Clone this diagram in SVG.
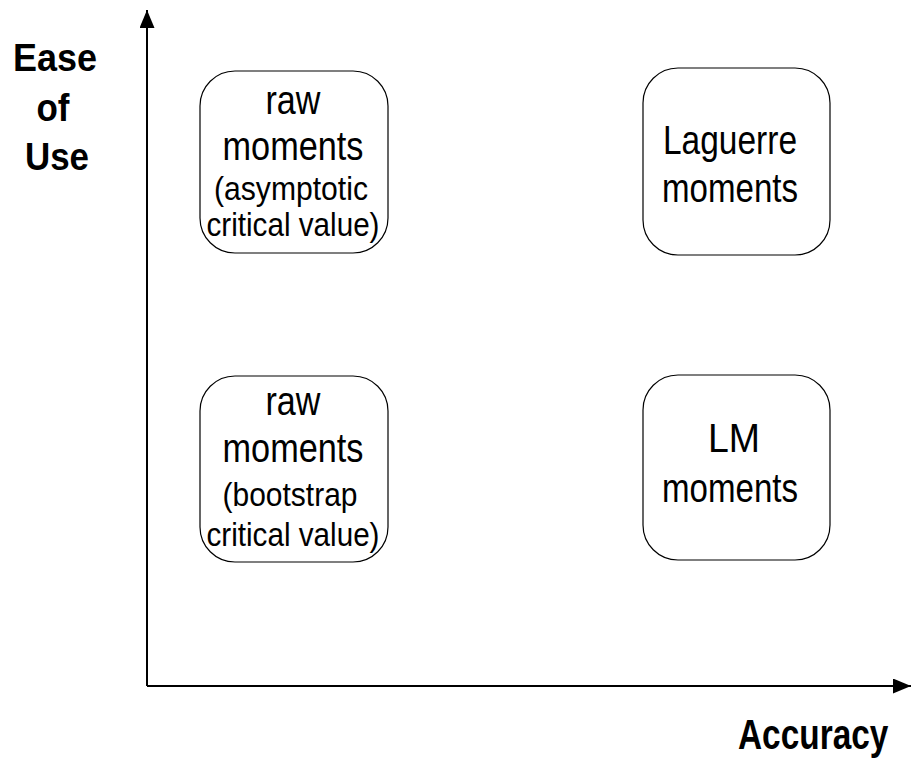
<svg xmlns="http://www.w3.org/2000/svg" width="912" height="761" viewBox="0 0 912 761">
<style>
.box{fill:#fff;stroke:#000;stroke-width:1.2}
.t{font-family:"Liberation Sans",Arial,sans-serif;fill:#000;text-anchor:middle}
.big{font-size:41px}
.small{font-size:33px}
.lab{font-family:"Liberation Sans",Arial,sans-serif;font-weight:bold;fill:#000}
.axis{stroke:#000;stroke-width:2;fill:none}
</style>
<defs>
<marker id="ah" viewBox="0 0 18 15" refX="18" refY="7.5" markerWidth="18" markerHeight="15" markerUnits="userSpaceOnUse" orient="auto">
<path d="M0,0 L18,7.5 L0,15 Z" fill="#000"/>
</marker>
</defs>
<rect width="912" height="761" fill="#fff"/>
<g id="connectors">
<path class="axis" d="M147,686 L147,10" marker-end="url(#ah)"/>
<path class="axis" d="M147,686 L911,686" marker-end="url(#ah)"/>
</g>
<g id="ylabel">
<text class="lab" x="55" y="71" font-size="39" text-anchor="middle" textLength="84" lengthAdjust="spacingAndGlyphs">Ease</text>
<text class="lab" x="53" y="121" font-size="39" text-anchor="middle" textLength="33" lengthAdjust="spacingAndGlyphs">of</text>
<text class="lab" x="57" y="170" font-size="39" text-anchor="middle" textLength="64" lengthAdjust="spacingAndGlyphs">Use</text>
</g>
<g id="xlabel">
<text class="lab" transform="translate(738,749) scale(0.795,1)" x="0" y="0" font-size="42">Accuracy</text>
</g>
<g id="raw-asymptotic">
<rect class="box" x="200" y="71" width="188" height="182" rx="35" ry="35"/>
<text class="t big" x="293" y="114" textLength="55" lengthAdjust="spacingAndGlyphs">raw</text>
<text class="t big" x="293" y="160" textLength="141" lengthAdjust="spacingAndGlyphs">moments</text>
<text class="t small" x="291" y="200" textLength="154" lengthAdjust="spacingAndGlyphs">(asymptotic</text>
<text class="t small" x="293" y="236" textLength="173" lengthAdjust="spacingAndGlyphs">critical value)</text>
</g>
<g id="laguerre">
<rect class="box" x="643" y="68" width="187" height="187" rx="35" ry="35"/>
<text class="t big" x="730" y="154" textLength="134" lengthAdjust="spacingAndGlyphs">Laguerre</text>
<text class="t big" x="730" y="202" textLength="136" lengthAdjust="spacingAndGlyphs">moments</text>
</g>
<g id="raw-bootstrap">
<rect class="box" x="200" y="376" width="188" height="186" rx="35" ry="35"/>
<text class="t big" x="293" y="415" textLength="55" lengthAdjust="spacingAndGlyphs">raw</text>
<text class="t big" x="293" y="462" textLength="141" lengthAdjust="spacingAndGlyphs">moments</text>
<text class="t small" x="290" y="506" textLength="135" lengthAdjust="spacingAndGlyphs">(bootstrap</text>
<text class="t small" x="293" y="546" textLength="173" lengthAdjust="spacingAndGlyphs">critical value)</text>
</g>
<g id="lm">
<rect class="box" x="643" y="375" width="187" height="185" rx="35" ry="35"/>
<text class="t big" x="734" y="452" textLength="52" lengthAdjust="spacingAndGlyphs">LM</text>
<text class="t big" x="730" y="502" textLength="136" lengthAdjust="spacingAndGlyphs">moments</text>
</g>
</svg>
